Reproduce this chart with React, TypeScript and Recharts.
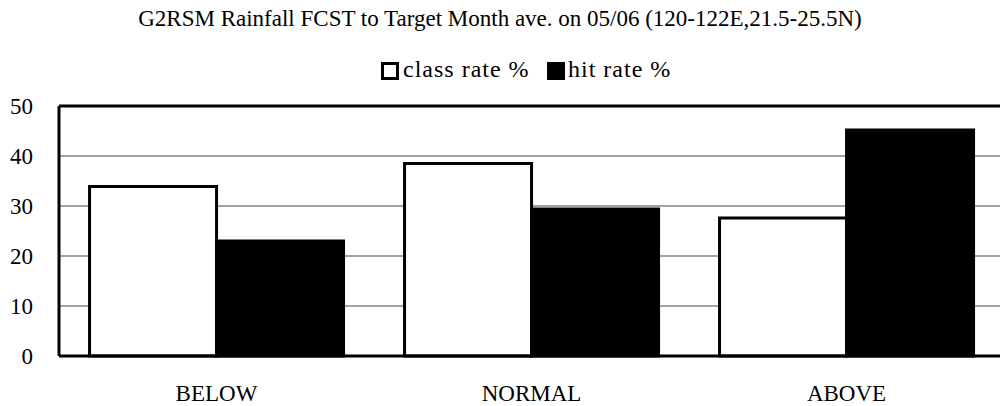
import React from 'react';
import { BarChart, Bar, XAxis, YAxis, CartesianGrid, Legend, ReferenceLine } from 'recharts';

const categories = ['BELOW', 'NORMAL', 'ABOVE'];
const classRate = [33.9, 38.5, 27.6];
const hitRate = [23.0, 29.4, 45.2];
const yTicks = [0, 10, 20, 30, 40, 50];
const seriesNames = ['class rate %', 'hit rate %'];
const titleText = 'G2RSM Rainfall FCST to Target Month ave. on 05/06 (120-122E,21.5-25.5N)';

const data = categories.map((c, i) => ({
  category: c,
  classRate: classRate[i],
  hitRate: hitRate[i],
  slot: i + 0.5,
}));

const FONT = "'Liberation Serif', 'Times New Roman', serif";

const LegendContent = (props: any) => {
  const payload = props.payload || [];
  const rectX = [13.5, 179.5];
  const textX = [34, 199];
  return (
    <svg width={330} height={36} style={{ display: 'block', overflow: 'visible' }}>
      {payload.map((p: any, i: number) => (
        <g key={p.value}>
          <rect x={rectX[i]} y={8.5} width={15} height={15} fill={p.color} stroke="#000" strokeWidth={3} />
          <text
            x={textX[i]}
            y={22}
            fontFamily={FONT}
            fontSize={24}
            letterSpacing={1}
            fill="#000"
            style={{ fontFamily: FONT }}
          >
            {p.value}
          </text>
        </g>
      ))}
    </svg>
  );
};

export default function App() {
  return (
    <div
      style={{
        position: 'absolute',
        left: 0,
        top: 0,
        width: 1000,
        height: 406,
        overflow: 'hidden',
        background: '#fff',
        fontFamily: FONT,
      }}
    >
      <svg width={1000} height={40} style={{ position: 'absolute', left: 0, top: 0 }}>
        <text
          x={500}
          y={26}
          textAnchor="middle"
          fontFamily={FONT}
          fontSize={23}
          fill="#000"
          style={{ fontFamily: FONT }}
        >
          {titleText}
        </text>
      </svg>
      <BarChart
        width={1010}
        height={406}
        data={data}
        margin={{ top: 106, right: 6, bottom: 0, left: 0 }}
        barCategoryGap="9.7%"
        barGap={0}
        style={{ fontFamily: FONT }}
      >
        <CartesianGrid horizontal vertical={false} stroke="#444" strokeWidth={1} />
        <XAxis
          dataKey="category"
          tickLine={false}
          tickSize={0}
          tickMargin={29}
          height={50}
          axisLine={{ stroke: '#000', strokeWidth: 3 }}
          tick={{ fontFamily: FONT, fontSize: 23, fill: '#000' }}
        />
        <XAxis
          xAxisId="sep"
          type="number"
          dataKey="slot"
          domain={[0, 3]}
          ticks={[1, 2]}
          mirror
          height={0}
          tick={false}
          axisLine={false}
          tickLine={{ stroke: '#000', strokeWidth: 1 }}
          tickSize={8}
        />
        <YAxis
          domain={[0, 50]}
          ticks={yTicks}
          width={59}
          tickLine={false}
          tickSize={0}
          tickMargin={26}
          axisLine={{ stroke: '#000', strokeWidth: 3 }}
          tick={{ fontFamily: FONT, fontSize: 23, fill: '#000' }}
        />
        <ReferenceLine y={50} stroke="#000" strokeWidth={3} />
        <Legend
          layout="horizontal"
          verticalAlign="middle"
          align="center"
          content={LegendContent}
          wrapperStyle={{ position: 'absolute', top: 55, left: 369, width: 330, height: 36 }}
        />
        <Bar
          dataKey="classRate"
          name={seriesNames[0]}
          fill="#fff"
          stroke="#000"
          strokeWidth={3}
          isAnimationActive={false}
        />
        <Bar
          dataKey="hitRate"
          name={seriesNames[1]}
          fill="#000"
          stroke="#000"
          strokeWidth={3}
          isAnimationActive={false}
        />
      </BarChart>
    </div>
  );
}
